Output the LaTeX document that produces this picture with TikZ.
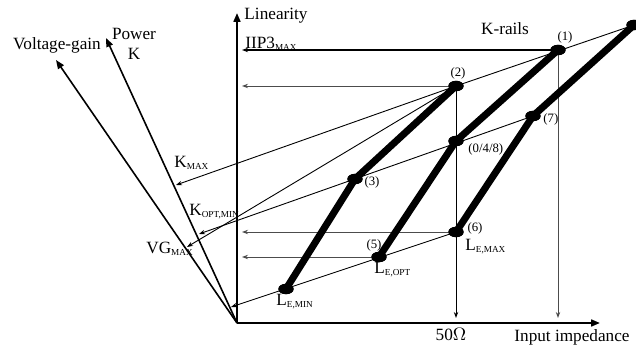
\documentclass[tikz,border=0pt]{standalone}
\usepackage{fontspec}
\setmainfont{Liberation Serif}
\usetikzlibrary{arrows.meta,shapes.geometric}
\newcommand{\lowtxt}[1]{\textsubscript{\fontsize{4.6}{5}\selectfont #1}}
\tikzset{
  axis/.style={-{Triangle[length=4.4pt,width=3.4pt]}, line width=1pt},
  rail/.style={line width=3.5pt, line cap=round, line join=round},
  ray/.style={-{Stealth[length=3pt,width=2.2pt]}, line width=0.45pt},
  proj/.style={ray, draw=black!70},
  dot/.style={ellipse, fill=black, inner sep=0pt, minimum width=7.6pt, minimum height=5.2pt},
  lbl/.style={font=\fontsize{8.6}{10}\selectfont, inner sep=0pt},
  idx/.style={font=\fontsize{6.4}{8}\selectfont, inner sep=0pt},
}
\begin{document}
\begin{tikzpicture}[x=0.5pt, y=-0.5pt]
\useasboundingbox (0,0) rectangle (636,346);

% axes
\coordinate (O) at (237,323);
\coordinate (linTip) at (237,13);
\coordinate (zinTip) at (600,323);
\coordinate (vgTip) at (56,60);
\coordinate (pkTip) at (106,38);
\draw[axis] (O) -- (linTip);
\draw[axis] (O) -- (zinTip);
\draw[axis, line width=0.8pt] (O) -- (vgTip);
\draw[axis, line width=0.8pt] (O) -- (pkTip);

% operating points
\node[dot] (p1) at (558,50) {};
\node[dot] (pT) at (634,25) {};
\node[dot] (p2) at (456,86) {};
\node[dot] (p0) at (456,141) {};
\node[dot] (p7) at (533,116) {};
\node[dot] (p3) at (355,179) {};
\node[dot] (p6) at (456,232) {};
\node[dot] (p5) at (379,257) {};
\node[dot] (pL) at (286,289) {};

% arrow ends
\coordinate (kmax) at (176,185);
\coordinate (kopt) at (199,234);
\coordinate (vgmax) at (187,247);
\coordinate (kmin) at (231,307);
\coordinate (iip3) at (242,50);
\coordinate (h2) at (242,86);
\coordinate (h6) at (242,232);
\coordinate (h5) at (242,257);
\coordinate (v1) at (558,318);
\coordinate (v2) at (456,318);

% projections
\draw[ray, line width=0.9pt] (p1.center) -- (iip3);
\draw[proj] (p2.center) -- (h2);
\draw[proj] (p6.center) -- (h6);
\draw[proj] (p5.center) -- (h5);
\draw[proj] (p1.center) -- (v1);
\draw[ray] (p2.center) -- (v2);

% K lines
\draw[line width=0.45pt] (pT.center) -- (p2.center);
\draw[ray] (p2.center) -- (kmax);
\draw[ray] (p2.center) -- (vgmax);
\draw[ray] (p7.center) -- (kopt);
\draw[ray] (p6.center) -- (kmin);

% rails
\draw[rail] (p2.center) -- (p3.center) -- (pL.center);
\draw[rail] (p1.center) -- (p0.center) -- (p5.center);
\draw[rail] (pT.center) -- (p7.center) -- (p6.center);

% redraw dots on top
\foreach \p in {p1,pT,p2,p0,p7,p3,p6,p5,pL}
  \node[dot] at (\p) {};

% labels
\node[lbl] (tLin) at (276,16) {Linearity};
\node[lbl] (tZin) at (572,337) {Input impedance};
\node[lbl] (tVg) at (57,45) {Voltage-gain};
\node[lbl, align=center] (tPk) at (134,44) {Power\\K};
\node[lbl, anchor=west] (tIip) at (245,44) {IIP3\lowtxt{MAX}};
\node[lbl] (tRails) at (505,29) {K-rails};
\node[lbl] (t50) at (451,334) {50$\Omega$};
\node[lbl, anchor=west] (tKmax) at (174,163) {K\lowtxt{MAX}};
\node[lbl, anchor=west] (tKopt) at (189,212) {K\lowtxt{OPT,MIN}};
\node[lbl, anchor=west] (tVgmax) at (146,249) {VG\lowtxt{MAX}};
\node[lbl, anchor=west] (tLmax) at (465,247) {L\lowtxt{E,MAX}};
\node[lbl, anchor=west] (tLopt) at (374,270) {L\lowtxt{E,OPT}};
\node[lbl, anchor=west] (tLmin) at (276,302) {L\lowtxt{E,MIN}};

\node[idx] (i1) at (565,37) {(1)};
\node[idx] (i2) at (458,73) {(2)};
\node[idx, anchor=west] (i0) at (468,149) {(0/4/8)};
\node[idx, anchor=west] (i7) at (543,119) {(7)};
\node[idx] (i3) at (372,182) {(3)};
\node[idx] (i6) at (475,228) {(6)};
\node[idx] (i5) at (374,245) {(5)};
\end{tikzpicture}
\end{document}
